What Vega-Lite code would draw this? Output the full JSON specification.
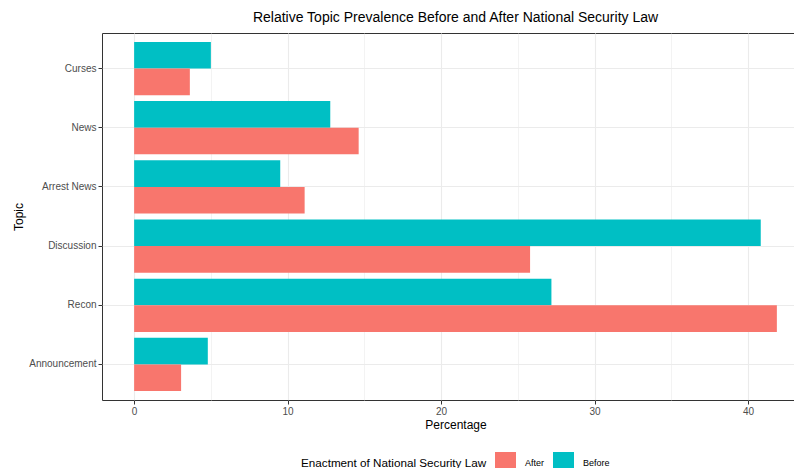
{
  "$schema": "https://vega.github.io/schema/vega-lite/v6.json",
  "autosize": {"type": "none"},
  "padding": {"left": 102, "top": 33, "right": 0, "bottom": 68},
  "width": 707,
  "height": 367,
  "background": "white",
  "title": {
    "text": "Relative Topic Prevalence Before and After National Security Law",
    "anchor": "middle",
    "font": "Liberation Sans",
    "fontSize": 14,
    "fontWeight": "normal",
    "color": "#000000",
    "offset": 8
  },
  "data": {
    "values": [
      {"Topic": "Curses", "Period": "Before", "Percentage": 5.0},
      {"Topic": "Curses", "Period": "After", "Percentage": 3.63},
      {"Topic": "News", "Period": "Before", "Percentage": 12.78},
      {"Topic": "News", "Period": "After", "Percentage": 14.63},
      {"Topic": "Arrest News", "Period": "Before", "Percentage": 9.52},
      {"Topic": "Arrest News", "Period": "After", "Percentage": 11.11},
      {"Topic": "Discussion", "Period": "Before", "Percentage": 40.83},
      {"Topic": "Discussion", "Period": "After", "Percentage": 25.8},
      {"Topic": "Recon", "Period": "Before", "Percentage": 27.19},
      {"Topic": "Recon", "Period": "After", "Percentage": 41.88},
      {"Topic": "Announcement", "Period": "Before", "Percentage": 4.8},
      {"Topic": "Announcement", "Period": "After", "Percentage": 3.06}
    ]
  },
  "mark": {"type": "bar"},
  "encoding": {
    "y": {
      "field": "Topic",
      "type": "nominal",
      "sort": ["Curses", "News", "Arrest News", "Discussion", "Recon", "Announcement"],
      "scale": {"paddingInner": 0.1, "paddingOuter": 0.15},
      "axis": {
        "title": "Topic",
        "titleFont": "Liberation Sans",
        "titleFontSize": 12,
        "titleFontWeight": "normal",
        "titleColor": "#000000",
        "titlePadding": 3,
        "labelFont": "Liberation Sans",
        "labelFontSize": 10,
        "labelColor": "#4D4D4D",
        "labelPadding": 2,
        "domain": false,
        "tickColor": "#333333",
        "tickSize": 4,
        "grid": true,
        "gridColor": "#EBEBEB",
        "gridWidth": 1,
        "bandPosition": 0.5
      }
    },
    "yOffset": {
      "field": "Period",
      "type": "nominal",
      "sort": ["Before", "After"],
      "scale": {"paddingInner": 0, "paddingOuter": 0}
    },
    "x": {
      "field": "Percentage",
      "type": "quantitative",
      "scale": {"domain": [-2.094, 43.974], "nice": false, "zero": false},
      "axis": {
        "title": "Percentage",
        "titleFont": "Liberation Sans",
        "titleFontSize": 12,
        "titleFontWeight": "normal",
        "titleColor": "#000000",
        "titlePadding": 3,
        "values": [0, 5, 10, 15, 20, 25, 30, 35, 40],
        "labelExpr": "datum.value % 10 === 0 ? datum.label : ''",
        "labelFont": "Liberation Sans",
        "labelFontSize": 10,
        "labelColor": "#4D4D4D",
        "labelPadding": 2,
        "domain": false,
        "tickColor": "#333333",
        "tickSize": 4,
        "tickOpacity": {"condition": {"test": "datum.value % 10 !== 0", "value": 0}, "value": 1},
        "grid": true,
        "gridColor": "#EBEBEB",
        "gridWidth": {"condition": {"test": "datum.value % 10 !== 0", "value": 0.6}, "value": 1.1}
      }
    },
    "color": {
      "field": "Period",
      "type": "nominal",
      "scale": {"domain": ["After", "Before"], "range": ["#F8766D", "#00BFC4"]},
      "legend": {
        "title": "Enactment of National Security Law",
        "orient": "none",
        "legendX": 199,
        "legendY": 419,
        "direction": "horizontal",
        "titleOrient": "left",
        "titleFont": "Liberation Sans",
        "titleFontSize": 11.7,
        "titleFontWeight": "normal",
        "titleColor": "#000000",
        "titlePadding": 8,
        "titleLimit": 400,
        "symbolType": "square",
        "symbolSize": 441,
        "symbolStrokeWidth": 0,
        "symbolOpacity": 1,
        "labelFont": "Liberation Sans",
        "labelFontSize": 9,
        "labelColor": "#000000",
        "labelOffset": 9,
        "columnPadding": 8
      }
    }
  },
  "config": {
    "view": {"stroke": "#333333", "strokeWidth": 1}
  }
}
